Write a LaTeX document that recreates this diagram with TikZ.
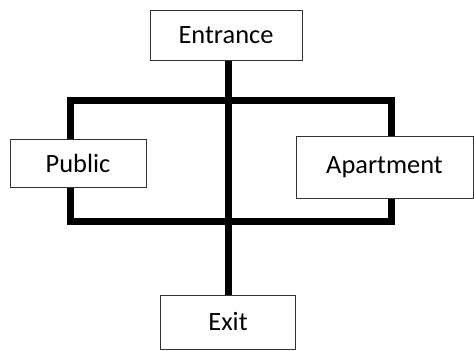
\documentclass[tikz,border=0pt]{standalone}
\usepackage{fontspec}
\setmainfont{Carlito}
\usetikzlibrary{backgrounds}

\begin{document}
\begin{tikzpicture}[
      x=1bp, y=-1bp,
      room/.style={draw=black!80, line width=0.8bp, fill=white, inner sep=0pt,
                   font=\fontsize{26.5}{30}\selectfont},
      wall/.style={line width=7bp, black}
    ]
      \useasboundingbox (0,0) rectangle (474,350);
      \node[room, minimum width=152bp, minimum height=50bp] (entrance) at (226,35) {Entrance};
      \node[room, minimum width=136bp, minimum height=48bp] (public) at (78,163) {Public};
      \node[room, minimum width=177bp, minimum height=62bp] (apartment) at (384.5,167) {Apartment};
      \node[room, minimum width=135bp, minimum height=54bp] (exit) at (228,322) {Exit};

      % corridors behind the rooms
      \coordinate (nw) at (70,100);
      \coordinate (se) at (391,221);
      \begin{scope}[on background layer]
        \draw[wall] (nw) rectangle (se);
        \draw[wall] (exit.north |- entrance.south) -- (exit.north);
      \end{scope}
    \end{tikzpicture}
\end{document}
